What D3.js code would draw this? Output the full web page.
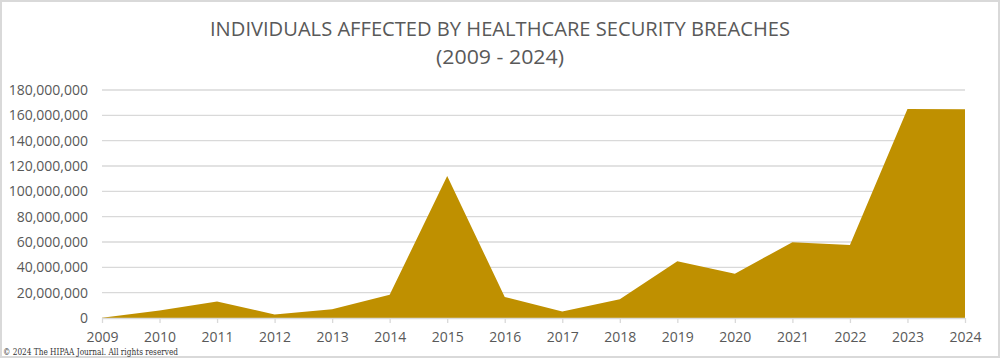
<!DOCTYPE html>
<html><head><meta charset="utf-8">
<script src="https://cdn.jsdelivr.net/npm/d3@7"></script>
<style>body{margin:0;background:#fff}svg{display:block}</style>
</head><body>
<svg id="chart" width="1000" height="358"></svg>
<script>
const years = ["2009","2010","2011","2012","2013","2014","2015","2016","2017","2018","2019","2020","2021","2022","2023","2024"];
const affected = [135000,5900000,13100000,2800000,6900000,18300000,112100000,16600000,5100000,14900000,44900000,35000000,59800000,57700000,165000000,164800000];
const yTicks = [0,20000000,40000000,60000000,80000000,100000000,120000000,140000000,160000000,180000000];
const titleLines = ["INDIVIDUALS AFFECTED BY HEALTHCARE SECURITY BREACHES","(2009 - 2024)"];
const copyright = "\u00A9 2024 The HIPAA Journal. All rights reserved";

const svg = d3.select("#chart");
const W = 1000, H = 358;
const mLeft = 102, mRight = 965, mTop = 90, mBottom = 318;

svg.append("rect").attr("x",1).attr("y",1).attr("width",W-2).attr("height",H-2)
  .attr("fill","#fff").attr("stroke","#d9d9d9").attr("stroke-width",2);

const x = d3.scalePoint().domain(years).range([mLeft,mRight]);
const y = d3.scaleLinear().domain([0,180000000]).range([mBottom,mTop]);

// gridlines
svg.append("g").selectAll("line").data(yTicks.filter(d=>d>0)).join("line")
  .attr("x1",mLeft).attr("x2",mRight).attr("y1",d=>y(d)).attr("y2",d=>y(d))
  .attr("stroke","#d9d9d9").attr("stroke-width",1.3);

// area
const area = d3.area().x((d,i)=>x(years[i])).y0(y(0)).y1(d=>y(d));
svg.append("path").datum(affected).attr("d",area).attr("fill","#bf9000");

// y axis labels
const yAxis = d3.axisLeft(y).tickValues(yTicks).tickSize(0).tickPadding(14)
  .tickFormat(d3.format(","));
const gy = svg.append("g").attr("transform",`translate(${mLeft},0)`).call(yAxis);
gy.select(".domain").remove();
gy.selectAll("text").attr("font-family","'Open Sans', sans-serif").attr("font-size",14)
  .attr("fill","#595959");

// x axis
const xAxis = d3.axisBottom(x).tickSize(5).tickPadding(9);
const gx = svg.append("g").attr("transform",`translate(0,${mBottom})`).call(xAxis);
gx.select(".domain").attr("stroke","#d9d9d9").attr("stroke-width",1.3).attr("d",`M${mLeft},0.5H${mRight}`);
gx.selectAll(".tick line").attr("stroke","#d9d9d9").attr("stroke-width",1.3);
gx.selectAll("text").attr("font-family","'Open Sans', sans-serif").attr("font-size",14).attr("fill","#595959");

// title
svg.append("text").attr("x",500).attr("y",36).attr("text-anchor","middle")
  .attr("font-family","'Open Sans', sans-serif").attr("font-size",20).attr("fill","#595959")
  .attr("textLength",580).attr("lengthAdjust","spacingAndGlyphs").text(titleLines[0]);
svg.append("text").attr("x",500).attr("y",64).attr("text-anchor","middle")
  .attr("font-family","'Open Sans', sans-serif").attr("font-size",20).attr("fill","#595959")
  .attr("textLength",128).attr("lengthAdjust","spacingAndGlyphs").text(titleLines[1]);

// copyright
svg.append("text").attr("x",3).attr("y",355)
  .attr("font-family","'DejaVu Serif', 'Liberation Serif', serif").attr("font-size",9).attr("fill","#333")
  .attr("textLength",175).attr("lengthAdjust","spacingAndGlyphs").text(copyright);
</script>
</body></html>
